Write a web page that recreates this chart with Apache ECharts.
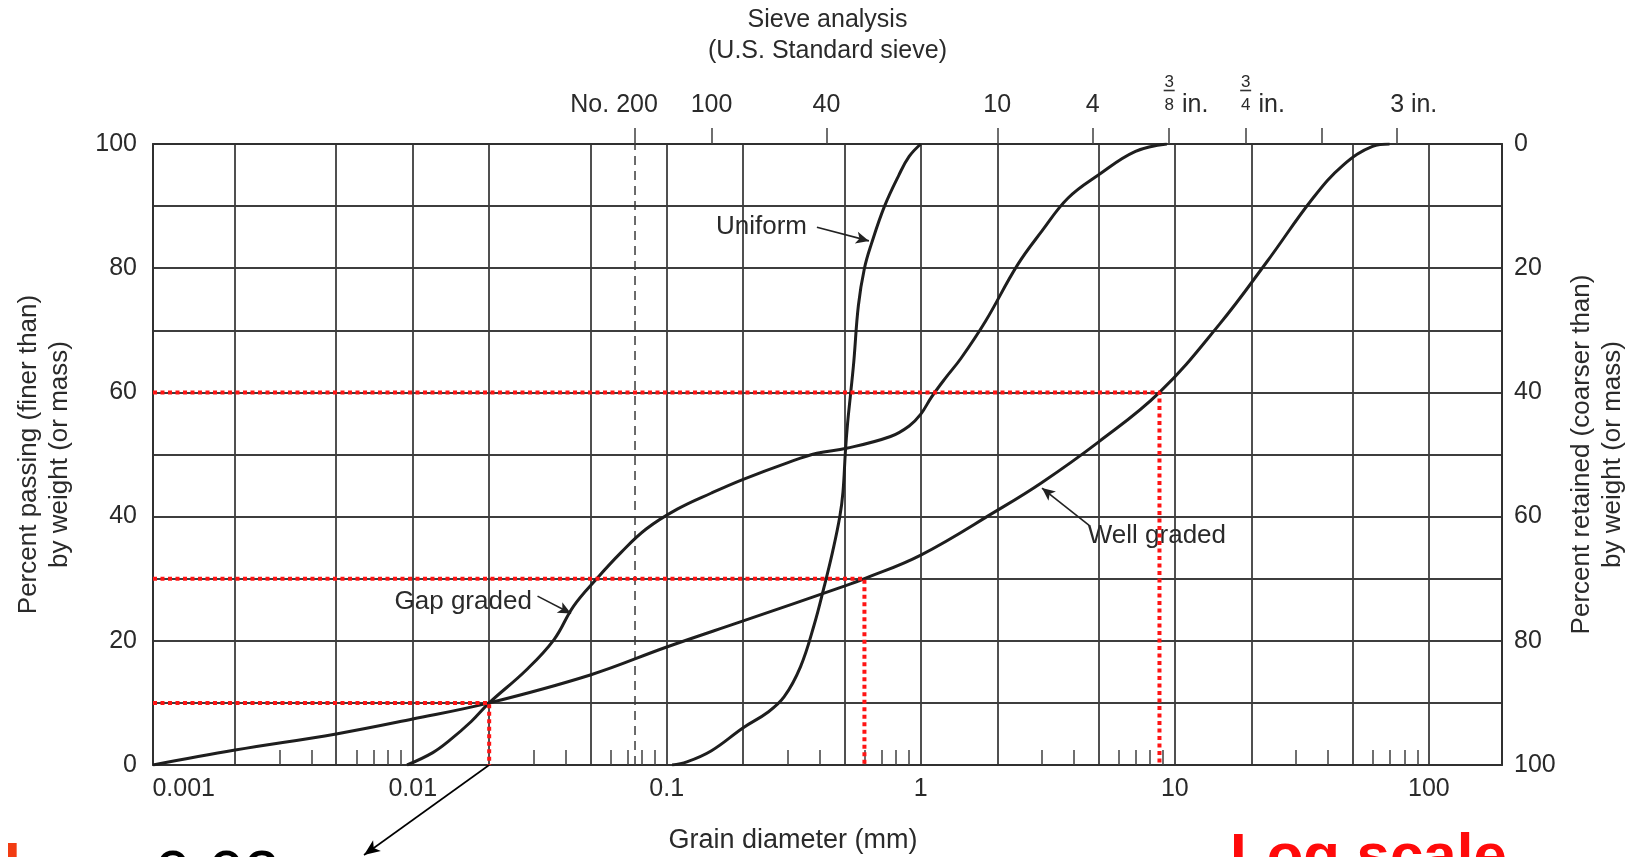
<!DOCTYPE html>
<html>
<head>
<meta charset="utf-8">
<title>Grain size distribution curves</title>
<script src="https://cdn.jsdelivr.net/npm/echarts@6/dist/echarts.min.js"></script>
<style>
html, body { margin: 0; padding: 0; background: #fff; }
#main { width: 1637px; height: 857px; }
</style>
</head>
<body>
<div id="main"></div>
<script>
// grain diameter (mm) and percent passing
const uniformDiam = [0.105, 0.12, 0.15, 0.2, 0.25, 0.29, 0.336, 0.38, 0.417, 0.45, 0.48, 0.494, 0.505, 0.515, 0.53, 0.545, 0.568, 0.6, 0.64, 0.72, 0.82, 0.9, 1.0];
const uniformPass = [0, 0.5, 2.3, 6, 8.5, 11, 15.8, 22.5, 28.8, 34.4, 40, 44, 50.5, 55, 60, 65, 74, 80, 84, 90, 95, 98, 100];

const gapDiam = [0.0095, 0.012, 0.014, 0.017, 0.02, 0.028, 0.036, 0.043, 0.053, 0.066, 0.083, 0.11, 0.15, 0.2, 0.3, 0.39, 0.51, 0.76, 0.9, 1.0, 1.1, 1.25, 1.44, 1.8, 2.4, 3.0, 3.8, 5.0, 7.0, 9.3];
const gapPass = [0, 2, 4, 7, 10, 15.3, 20.2, 25.6, 30, 34.2, 38, 41.2, 43.8, 46, 48.7, 50.2, 51, 52.9, 54.6, 56.5, 59.2, 62.3, 65.5, 71.5, 80.5, 86, 91.3, 95, 98.8, 100];

// the well graded curve starts right at the left edge of the chart
const wellDiam = [0.00095, 0.002, 0.005, 0.01, 0.02, 0.05, 0.1, 0.2, 0.5, 0.6, 1, 2, 3, 5, 8.7, 15, 23, 35, 46, 60, 70];
const wellPass = [0, 2.4, 5, 7.4, 10, 14.5, 19, 23.2, 28.8, 30, 33.8, 41, 45.5, 52, 60, 71, 81, 91.3, 96.6, 99.6, 100];

// D10 / D30 / D60 read-offs drawn in red
const markPercent = [10, 30, 60];
const markDiam = [0.02, 0.6, 8.7];

// axes (the scanned log scale runs a little past 0.001 ... 100 decades)
const diamMin = 0.00095;
const diamMax = 194;
const decadeTicks = [0.001, 0.01, 0.1, 1, 10, 100];
const gridLines = [0.002, 0.005, 0.01, 0.02, 0.05, 0.1, 0.2, 0.5, 1, 2, 5, 10, 20, 50, 100];
const minorMantissa = [3, 4, 6, 7, 8, 9];
const minorTicks = [0.001, 0.01, 0.1, 1, 10].flatMap(d => minorMantissa.map(m => +(m * d).toPrecision(3)));
const sieveSizes = [0.075, 0.15, 0.425, 2, 4.75, 9.5, 19, 38, 75];
const sieveLabels = ['No. 200', '100', '40', '10', '4', '3/8 in.', '3/4 in.', '', '3 in.'];

const FONT = "'Liberation Sans', Arial, Helvetica, sans-serif";
const INK = '#2a2a2a';
const LINE = '#303030';
const GRID = '#3d3d3d';

const sameValue = (a, b) => Math.abs(a - b) / b < 1e-6;

function decadeLabel(v) {
  const t = String(+v.toPrecision(6));
  // first label starts at the left edge instead of being centred
  return sameValue(v, decadeTicks[0]) ? '{padFirst|}{plain|' + t + '}' : '{plain|' + t + '}';
}

function sieveText(v) {
  const i = sieveSizes.findIndex(s => sameValue(v, s));
  return i < 0 ? '' : sieveLabels[i];
}

// "No. 200" is wide, it gets its own axis so it does not knock out "100"
function noLabel(v) {
  const t = sieveText(v);
  return t.indexOf('No. ') === 0 ? '{no|No. }{plain|' + t.slice(4) + '}{padNo|}' : '';
}

function sieveLabel(v) {
  const t = sieveText(v);
  if (!t || t.indexOf('No. ') === 0) return '';
  const frac = t.match(/^(\d)\/(\d) in\.$/);
  if (frac) {
    return '{padA|}{fn|' + frac[1] + '}{padA|}\n' +
      '{padB|}{bar|}{padB|}\n' +
      '{padC|}{fd|' + frac[2] + '}{inch| in.}';
  }
  if (/ in\.$/.test(t)) return '{padC|}{digit|' + t.split(' ')[0] + '}{inch| in.}';
  return '{plain|' + t + '}';
}

// labels and arrows drawn on the figure (data coordinates)
const notes = [
  { text: 'Uniform', at: [0.236, 86.6], from: [0.39, 86.6], to: [0.625, 84.4], curve: 0 },
  { text: 'Gap graded', at: [0.0158, 26.2], from: [0.031, 27.2], to: [0.042, 24.4], curve: -0.35 },
  { text: 'Well graded', at: [8.5, 36.9], from: [4.6, 38.6], to: [3.0, 44.6], curve: -0.2 }
];

const chart = echarts.init(document.getElementById('main'));

function curve(name, diam, pass, note) {
  return {
    name: name,
    type: 'line',
    xAxisIndex: 0,
    yAxisIndex: 0,
    data: diam.map((d, i) => [d, pass[i]]),
    showSymbol: false,
    smooth: 0.4,
    lineStyle: { color: '#1e1e1e', width: 3 },
    z: 3,
    markPoint: {
      symbol: 'circle',
      symbolSize: 0,
      silent: true,
      label: { show: true, position: 'inside', formatter: note.text, color: INK, fontSize: 26, fontFamily: FONT },
      data: [{ coord: note.at }]
    },
    markLine: {
      silent: true,
      symbol: ['none', 'arrow'],
      symbolSize: [9, 13],
      label: { show: false },
      lineStyle: { color: '#222', width: 1.6, type: 'solid', curveness: note.curve },
      data: [[{ coord: note.from }, { coord: note.to }]]
    }
  };
}

const redSeries = markPercent.map((p, i) => ({
  type: 'line',
  xAxisIndex: 0,
  yAxisIndex: 0,
  data: [[diamMin, p], [markDiam[i], p], [markDiam[i], 0]],
  showSymbol: false,
  clip: false,
  lineStyle: { color: '#ff1414', width: 4, type: [4, 3.5], cap: 'butt' },
  z: 5
}));

// arrow from the D10 read-off down to the 0.02 note
redSeries[0].markLine = {
  silent: true,
  symbol: ['none', 'arrow'],
  symbolSize: [10, 16],
  label: { show: false },
  lineStyle: { color: '#000', width: 1.6, type: 'solid' },
  data: [[{ coord: [markDiam[0], 0] }, { x: 364, y: 855 }]]
};

const sieveRich = {
  plain: { fontSize: 25, lineHeight: 26, color: INK },
  no: { fontSize: 25, lineHeight: 26, width: 46, color: INK },
  padNo: { width: 42, lineHeight: 26 },
  digit: { fontSize: 25, lineHeight: 26, width: 14, color: INK },
  inch: { fontSize: 25, lineHeight: 26, width: 33, color: INK },
  padA: { width: 33, lineHeight: 13 },
  padB: { width: 33, lineHeight: 3 },
  padC: { width: 33, lineHeight: 26 },
  fn: { fontSize: 17, lineHeight: 13, width: 12, color: INK },
  bar: { width: 11, height: 1.6, lineHeight: 3, backgroundColor: '#333' },
  fd: { fontSize: 17, lineHeight: 26, width: 12, color: INK }
};

const option = {
  backgroundColor: '#ffffff',
  animation: false,
  textStyle: { fontFamily: FONT },
  grid: [
    { left: 153, right: 135, top: 144, bottom: 92, outerBoundsMode: 'none' },
    { left: 153, right: 135, top: 144, bottom: 92, outerBoundsMode: 'none' }
  ],
  xAxis: [
    {
      type: 'log',
      logBase: 10,
      gridIndex: 0,
      position: 'bottom',
      min: diamMin,
      max: diamMax,
      name: 'Grain diameter (mm)',
      nameLocation: 'middle',
      nameGap: 60,
      nameTextStyle: { fontSize: 27, lineHeight: 31, color: INK, padding: [0, 69, 0, 0] },
      axisLine: { show: true, onZero: false, lineStyle: { color: LINE, width: 2 } },
      axisTick: { show: true, inside: true, length: 15, customValues: minorTicks, lineStyle: { color: '#404040', width: 1.5 } },
      axisLabel: {
        customValues: decadeTicks,
        margin: 11,
        hideOverlap: false,
        formatter: decadeLabel,
        rich: {
          plain: { fontSize: 25, lineHeight: 26, color: INK },
          padFirst: { width: 50, lineHeight: 26 }
        }
      },
      splitLine: { show: false }
    },
    {
      type: 'log',
      logBase: 10,
      gridIndex: 0,
      position: 'top',
      min: diamMin,
      max: diamMax,
      name: 'Sieve analysis\n(U.S. Standard sieve)',
      nameLocation: 'middle',
      nameGap: 77,
      nameTextStyle: { fontSize: 25, lineHeight: 31, color: INK },
      axisLine: { show: true, onZero: false, lineStyle: { color: LINE, width: 2 } },
      axisTick: { show: true, inside: false, length: 16, customValues: sieveSizes, lineStyle: { color: '#404040', width: 1.5 } },
      axisLabel: { customValues: sieveSizes, margin: 26, hideOverlap: false, formatter: sieveLabel, rich: sieveRich },
      splitLine: { show: false }
    },
    {
      type: 'log',
      logBase: 10,
      gridIndex: 1,
      position: 'bottom',
      min: diamMin,
      max: diamMax,
      axisLine: { show: false },
      axisTick: { show: false, customValues: gridLines },
      axisLabel: { show: false },
      splitLine: { show: true, lineStyle: { color: GRID, width: 1.8 } }
    },
    {
      type: 'log',
      logBase: 10,
      gridIndex: 1,
      position: 'top',
      min: diamMin,
      max: diamMax,
      axisLine: { show: false },
      axisTick: { show: false },
      axisLabel: { customValues: [sieveSizes[0]], margin: 26, hideOverlap: false, formatter: noLabel, rich: sieveRich },
      splitLine: { show: false }
    }
  ],
  yAxis: [
    {
      type: 'value',
      gridIndex: 0,
      position: 'left',
      min: 0,
      max: 100,
      interval: 10,
      name: 'Percent passing (finer than)\nby weight (or mass)',
      nameLocation: 'middle',
      nameRotate: 90,
      nameGap: 78,
      nameTextStyle: { fontSize: 26, lineHeight: 31, color: INK },
      axisLine: { show: true, lineStyle: { color: LINE, width: 2 } },
      axisTick: { show: false },
      axisLabel: { margin: 16, fontSize: 25, color: INK, formatter: v => (v % 20 === 0 ? String(v) : '') },
      splitLine: { show: true, lineStyle: { color: GRID, width: 1.8 } }
    },
    {
      type: 'value',
      gridIndex: 0,
      position: 'right',
      inverse: true,
      min: 0,
      max: 100,
      interval: 20,
      name: 'Percent retained (coarser than)\nby weight (or mass)',
      nameLocation: 'middle',
      nameRotate: 90,
      nameGap: 60,
      nameTextStyle: { fontSize: 26, lineHeight: 31, color: INK },
      axisLine: { show: true, lineStyle: { color: LINE, width: 2 } },
      axisTick: { show: false },
      axisLabel: { margin: 12, fontSize: 25, color: INK },
      splitLine: { show: false }
    },
    { type: 'value', gridIndex: 1, min: 0, max: 100, show: false }
  ],
  series: [
    curve('Uniform', uniformDiam, uniformPass, notes[0]),
    curve('Gap graded', gapDiam, gapPass, notes[1]),
    curve('Well graded', wellDiam, wellPass, notes[2]),
    {
      // No. 200 sieve, dashed across the chart
      type: 'line',
      xAxisIndex: 0,
      yAxisIndex: 0,
      data: [[sieveSizes[0], 0], [sieveSizes[0], 100]],
      showSymbol: false,
      silent: true,
      lineStyle: { color: '#3a3a3a', width: 1.5, type: [9, 6] },
      z: 2
    }
  ].concat(redSeries),
  graphic: [
    { type: 'text', x: 155, y: 878, style: { text: '0.02', fill: '#000', font: '64px ' + FONT, verticalAlign: 'middle' } },
    { type: 'text', x: 4, y: 867, style: { text: 'I', fill: '#f23c12', font: 'bold 60px ' + FONT, verticalAlign: 'middle' } },
    { type: 'text', x: 1230, y: 858, style: { text: 'Log scale', fill: '#ff0a0a', font: 'bold 60px ' + FONT, verticalAlign: 'middle' } }
  ]
};

chart.setOption(option);
</script>
</body>
</html>
